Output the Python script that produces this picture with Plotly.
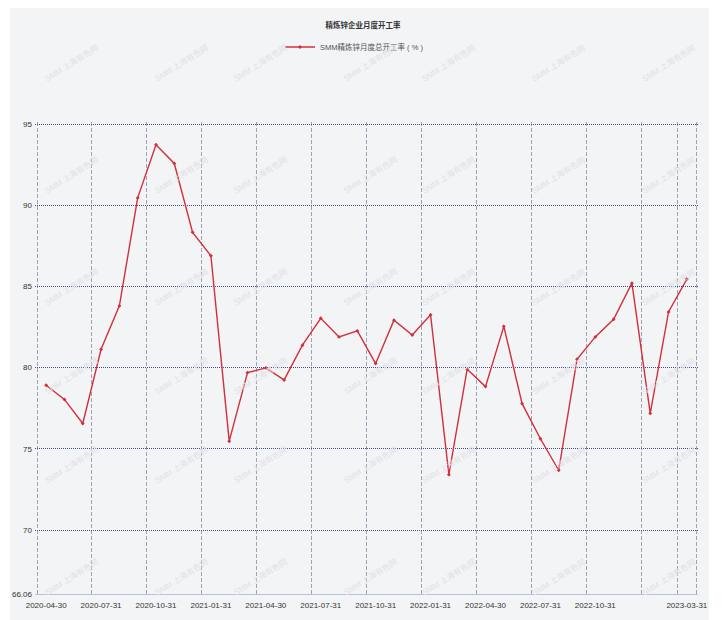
import plotly.graph_objects as go

# ---------------- data ----------------
dates = [
    "2020-04-30", "2020-05-31", "2020-06-30", "2020-07-31", "2020-08-31", "2020-09-30",
    "2020-10-31", "2020-11-30", "2020-12-31", "2021-01-31", "2021-02-28", "2021-03-31",
    "2021-04-30", "2021-05-31", "2021-06-30", "2021-07-31", "2021-08-31", "2021-09-30",
    "2021-10-31", "2021-11-30", "2021-12-31", "2022-01-31", "2022-02-28", "2022-03-31",
    "2022-04-30", "2022-05-31", "2022-06-30", "2022-07-31", "2022-08-31", "2022-09-30",
    "2022-10-31", "2022-11-30", "2022-12-31", "2023-01-31", "2023-02-28", "2023-03-31",
]
rates = [
    78.91, 78.04, 76.56, 81.13, 83.80, 90.45,
    93.72, 92.57, 88.33, 86.89, 75.47, 79.69,
    79.98, 79.24, 81.38, 83.04, 81.89, 82.26,
    80.25, 82.92, 82.01, 83.25, 73.41, 79.90,
    78.83, 82.54, 77.78, 75.62, 73.68, 80.51,
    81.89, 82.98, 85.20, 77.18, 83.43, 85.45,
]
x_label_dates = ["2020-04-30", "2020-07-31", "2020-10-31", "2021-01-31", "2021-04-30",
                 "2021-07-31", "2021-10-31", "2022-01-31", "2022-04-30", "2022-07-31",
                 "2022-10-31", "2023-03-31"]
x_grid_dates = ["2020-04-30", "2020-07-31", "2020-10-31", "2021-01-31", "2021-04-30",
                "2021-07-31", "2021-10-31", "2022-01-31", "2022-04-30", "2022-07-31",
                "2022-10-31", "2023-01-31", "2023-03-31"]
y_min, y_max = 66.06, 95
y_tick_vals = [66.06, 70, 75, 80, 85, 90, 95]
y_tick_text = ["66.06", "70", "75", "80", "85", "90", "95"]
title_text = "精炼锌企业月度开工率"
series_name = "SMM精炼锌月度总开工率 ( % )"
watermark = "SMM 上海有色网"

# ---------------- layout constants ----------------
OFF = 8                      # default page body margin
PAD = 2                      # extra pixels so edge gridlines are not clipped
W, H = 725 - OFF, 620 - OFF
PL, PR, PT, PB = 37 - PAD, 696 + PAD, 124 - PAD, 594   # plot area in page pixels
L, R, T, B = PL - OFF, W - (PR - OFF), PT - OFF, H - (PB - OFF)
PW, PH = W - L - R, H - T - B

def px_to_paper(px, py):
    return (px - OFF - L) / PW, (H - B - (py - OFF)) / PH

n = len(dates)
xs = list(range(n))

label_vals = [dates.index(d) for d in x_label_dates]
grid_vals = [dates.index(d) - 0.5 for d in x_grid_dates] + [n - 0.5]
x_unit_px = (PW - 2 * PAD) / n
y_unit_px = (PH - PAD) / (y_max - y_min)
xrange_ = [-0.5 - PAD / x_unit_px, n - 0.5 + PAD / x_unit_px]
yrange_ = [y_min, y_max + PAD / y_unit_px]

LBL_FONT = "Liberation Sans, sans-serif"
CJK = "Noto Sans CJK SC"
RED = "#d0303c"

fig = go.Figure()
fig.add_trace(go.Scatter(
    x=xs, y=rates, mode="lines+markers", name=series_name,
    line=dict(color=RED, width=1.4),
    marker=dict(color=RED, size=3, symbol="diamond"),
))

shapes = []
x0, y0 = px_to_paper(10, 630)
x1, y1 = px_to_paper(709, 7)
shapes.append(dict(type="rect", xref="paper", yref="paper", x0=x0, x1=x1, y0=y0, y1=y1,
                   fillcolor="#f3f4f6", line=dict(width=0), layer="below"))

annotations = []
for py in [40, 152, 264, 376, 488, 600]:
    for pxx in [40, 150, 260, 370, 480, 590, 700]:
        ax_, ay_ = px_to_paper(pxx, py)
        annotations.append(dict(text=watermark, x=ax_, y=ay_, xref="paper", yref="paper",
                                showarrow=False, textangle=-32,
                                font=dict(family="Liberation Sans, " + CJK, size=8, color="#dfe1e5")))

tx, _ = px_to_paper(363, 25)
lx, ly = px_to_paper(280, 47)

fig.update_layout(
    width=W, height=H,
    margin=dict(l=L, r=R, t=T, b=B, pad=0, autoexpand=False),
    paper_bgcolor="white",
    plot_bgcolor="rgba(0,0,0,0)",
    font=dict(family=LBL_FONT, color="#333333"),
    title=dict(text="<b>" + title_text + "</b>", x=tx, xref="paper", xanchor="center",
               y=1 - (25 - OFF) / H, yanchor="middle",
               font=dict(family=CJK, size=7.5, color="#333333")),
    showlegend=True,
    legend=dict(orientation="h", x=lx, y=ly, xanchor="left", yanchor="middle",
                bgcolor="rgba(0,0,0,0)", itemwidth=30,
                font=dict(family="Liberation Sans, " + CJK, size=7.5, color="#555555")),
    shapes=shapes,
    annotations=annotations,
    xaxis=dict(
        range=xrange_,
        tickmode="array", tickvals=label_vals, ticktext=x_label_dates, tickangle=0,
        automargin=False, showgrid=False,
        minor=dict(tickmode="array", tickvals=grid_vals, showgrid=True,
                   gridcolor="#a0a3b6", griddash="4px,2px", gridwidth=1, ticks=""),
        showline=True, linecolor="#bcbfe0", linewidth=1,
        zeroline=False, ticks="", ticklabelstandoff=3,
        tickfont=dict(family=LBL_FONT, size=8, color="#333333"),
    ),
    yaxis=dict(
        range=yrange_,
        tickmode="array", tickvals=y_tick_vals, ticktext=y_tick_text,
        automargin=False,
        showgrid=True, gridcolor="#3d4a94", griddash="1px,1px", gridwidth=1,
        showline=False, zeroline=False, ticks="", ticklabelstandoff=2,
        tickfont=dict(family=LBL_FONT, size=8, color="#333333"),
    ),
)

fig.write_html("out.html")
